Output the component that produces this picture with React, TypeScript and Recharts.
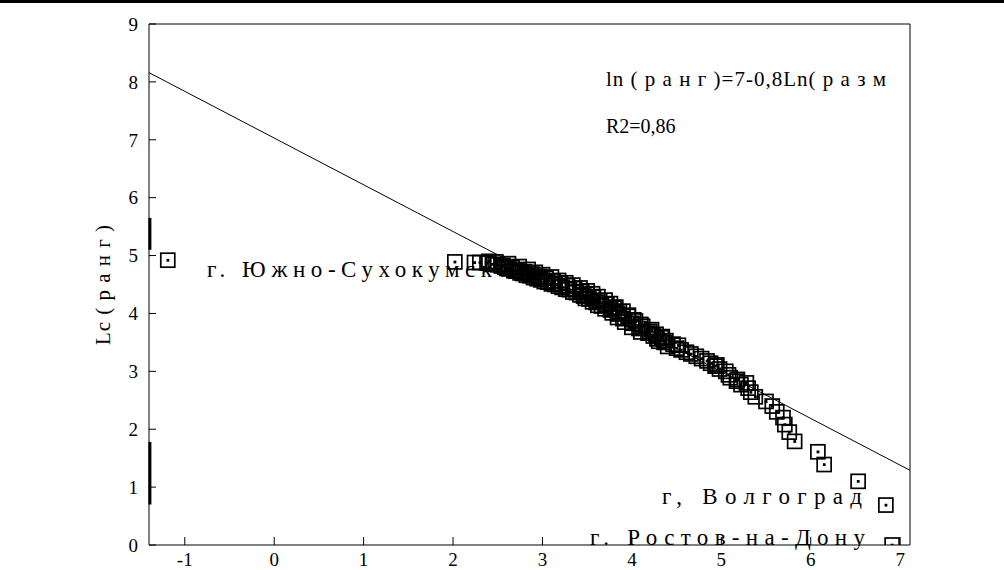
import React from 'react';
import { ScatterChart, Scatter, XAxis, YAxis, ReferenceLine } from 'recharts';

// ln(size) of each town
const lnSize = [
  6.91, 6.84, 6.53, 6.15, 6.08, 5.82, 5.76, 5.71, 5.69, 5.62,
  5.57, 5.5, 5.38, 5.33, 5.3, 5.22, 5.17, 5.1, 5.08, 5.05,
  4.98, 4.93, 4.88, 4.84, 4.78, 4.72, 4.66, 4.61, 4.55, 4.5,
  4.4, 4.46, 4.36, 4.38, 4.28, 4.33, 4.24, 4.27, 4.18, 4.2,
  4.08, 4.12, 4.0, 4.04, 3.9, 3.96, 3.84, 3.86, 3.76, 3.8,
  3.66, 3.72, 3.6, 3.64, 3.52, 3.57, 3.46, 3.5, 3.38, 3.44,
  3.3, 3.36, 3.22, 3.28, 3.14, 3.2, 3.06, 3.12, 2.98, 3.04,
  2.9, 2.96, 2.82, 2.88, 2.75, 2.8, 2.68, 2.72, 2.62, 2.66,
  2.58, 2.54, 2.5, 2.44, 2.38, 2.3, 2.24, 2.02, -1.19,
  4.52, 4.3, 4.34, 4.1, 4.22, 4.0, 4.1, 3.92, 4.02, 3.84,
  3.96, 3.78, 3.9, 3.7, 3.82, 3.62, 3.76, 3.56, 3.7, 3.48,
  3.62, 3.42, 3.56, 3.34, 3.5, 3.26, 3.42, 3.18, 3.34, 3.1,
  3.26, 3.02, 3.18, 2.94, 3.1, 2.86, 3.0, 2.78, 2.92, 2.7,
  2.84, 2.6, 2.74, 2.56, 2.62, 2.48, 2.4, 5.18, 5.28, 4.95,
];

// ln(rank) of each town
const lnRank = [
  0, 0.69, 1.1, 1.39, 1.61, 1.79, 1.95, 2.08, 2.2, 2.3,
  2.4, 2.48, 2.56, 2.64, 2.71, 2.77, 2.83, 2.89, 2.94, 3.0,
  3.04, 3.09, 3.14, 3.18, 3.22, 3.26, 3.3, 3.33, 3.37, 3.4,
  3.43, 3.47, 3.5, 3.53, 3.56, 3.58, 3.61, 3.64, 3.66, 3.69,
  3.74, 3.78, 3.83, 3.87, 3.91, 3.95, 3.99, 4.03, 4.06, 4.09,
  4.13, 4.16, 4.19, 4.22, 4.25, 4.28, 4.3, 4.33, 4.36, 4.38,
  4.41, 4.43, 4.45, 4.48, 4.5, 4.52, 4.54, 4.56, 4.58, 4.61,
  4.62, 4.64, 4.66, 4.68, 4.7, 4.72, 4.74, 4.75, 4.77, 4.79,
  4.8, 4.82, 4.84, 4.85, 4.87, 4.88, 4.88, 4.89, 4.92,
  3.45, 3.52, 3.6, 3.68, 3.72, 3.76, 3.81, 3.85, 3.89, 3.93,
  3.97, 4.01, 4.04, 4.08, 4.11, 4.14, 4.17, 4.2, 4.23, 4.26,
  4.29, 4.32, 4.34, 4.37, 4.39, 4.42, 4.44, 4.47, 4.49, 4.51,
  4.53, 4.55, 4.57, 4.6, 4.63, 4.65, 4.67, 4.69, 4.71, 4.73,
  4.76, 4.78, 4.81, 4.83, 4.86, 4.89, 4.9, 2.86, 2.8, 3.11,
];

// regression ln(rank) = 7 - 0.8 ln(size), drawn across the plot
const fitX = [-1.4, 7.11];
const fitY = [8.16, 1.29];

const xTicks = [-1, 0, 1, 2, 3, 4, 5, 6, 7];
const yTicks = [0, 1, 2, 3, 4, 5, 6, 7, 8, 9];

const towns = lnSize.map((x, i) => ({ x, y: lnRank[i] }));
const fitLine = fitX.map((x, i) => ({ x, y: fitY[i] }));

const FONT = '"Liberation Serif", "Times New Roman", serif';

function SquareDot(props: any) {
  const { cx, cy } = props;
  if (cx == null || cy == null) return <g />;
  return (
    <g>
      <rect x={cx - 7} y={cy - 7} width={14} height={14} fill="none" stroke="#000" strokeWidth={1.7} />
      <rect x={cx - 1.3} y={cy - 1.3} width={2.8} height={2.8} fill="#000" />
    </g>
  );
}

const tickStyle = { fontFamily: FONT, fontSize: 19, fill: '#000' };

export default function App() {
  return (
    <div style={{ position: 'absolute', left: 0, top: 0, width: 1004, height: 570, background: '#fff' }}>
      <div style={{ position: 'absolute', left: 0, top: 0, width: 1004, height: 3, background: '#000' }} />
      <ScatterChart width={1004} height={570} margin={{ top: 23, right: 93, bottom: 0, left: 89 }}>
        <XAxis
          type="number"
          dataKey="x"
          domain={[-1.4, 7.11]}
          ticks={xTicks}
          allowDataOverflow
          height={25}
          tickSize={-8}
          tickMargin={16}
          tick={tickStyle}
          stroke="#000"
        />
        <XAxis
          xAxisId="top"
          orientation="top"
          type="number"
          domain={[-1.4, 7.11]}
          ticks={xTicks}
          allowDataOverflow
          height={1}
          tickSize={-8}
          tick={false}
          stroke="#000"
        />
        <YAxis
          type="number"
          dataKey="y"
          domain={[0, 9]}
          ticks={yTicks}
          allowDataOverflow
          width={60}
          tickSize={-7}
          tickMargin={18}
          tick={tickStyle}
          stroke="#000"
        />
        <YAxis
          yAxisId="right"
          orientation="right"
          type="number"
          domain={[0, 9]}
          ticks={yTicks}
          width={1}
          tickSize={-8}
          tick={false}
          stroke="#000"
        />
        <ReferenceLine segment={[{ x: -1.39, y: 5.1 }, { x: -1.39, y: 5.65 }]} stroke="#000" strokeWidth={3} />
        <ReferenceLine segment={[{ x: -1.39, y: 0.7 }, { x: -1.39, y: 1.78 }]} stroke="#000" strokeWidth={3} />
        <Scatter
          data={fitLine}
          line={{ stroke: '#000', strokeWidth: 1 }}
          shape={() => <g />}
          isAnimationActive={false}
        />
        <Scatter data={towns} shape={SquareDot} isAnimationActive={false} />
      </ScatterChart>
      <svg
        width={1004}
        height={570}
        style={{ position: 'absolute', left: 0, top: 0, pointerEvents: 'none' }}
        fontFamily={FONT}
      >
        <text x={606} y={86} fontSize={21} textLength={280} lengthAdjust="spacing">
          ln ( р а н г )=7-0,8Ln( р а з м
        </text>
        <text x={606} y={133} fontSize={20}>
          R2=0,86
        </text>
        <text x={207} y={277} fontSize={23} textLength={285} lengthAdjust="spacing">
          г. Южно-Сухокумск
        </text>
        <text x={662} y={504} fontSize={23} textLength={200} lengthAdjust="spacing">
          г, Волгоград
        </text>
        <text x={590} y={545} fontSize={23} textLength={275} lengthAdjust="spacing">
          г. Ростов-на-Дону
        </text>
        <text
          x={0}
          y={0}
          fontSize={21}
          textAnchor="middle"
          textLength={120}
          lengthAdjust="spacing"
          transform="translate(110 285) rotate(-90)"
        >
          Lc ( р а н г )
        </text>
      </svg>
    </div>
  );
}
